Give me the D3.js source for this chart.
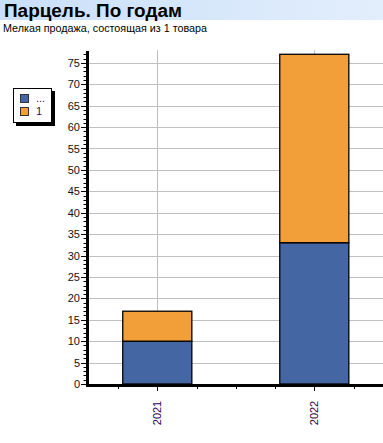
<!DOCTYPE html>
<html><head><meta charset="utf-8">
<script src="https://cdn.jsdelivr.net/npm/d3@7"></script>
<style>body{margin:0;background:#fff;} svg{display:block;font-family:"Liberation Sans",Arial,sans-serif;}</style>
</head><body><svg id="c" width="383" height="443"></svg>
<script>
const title = "Парцель. По годам";
const subtitle = "Мелкая продажа, состоящая из 1 товара";
const categories = ["2021", "2022"];
const seriesNames = ["...", "1"];
const seriesColors = ["#4467a3", "#f29f3a"];
const seriesDots = [10, 33];
const seriesOne = [7, 44];
const yTicks = [0,5,10,15,20,25,30,35,40,45,50,55,60,65,70,75];

const svg = d3.select("#c");
const defs = svg.append("defs");
const g1 = defs.append("linearGradient").attr("id","tg");
g1.append("stop").attr("offset","0%").attr("stop-color","#c9dff9");
g1.append("stop").attr("offset","100%").attr("stop-color","#e3eefc");
svg.append("rect").attr("x",0).attr("y",0).attr("width",383).attr("height",20).attr("fill","url(#tg)");
svg.append("text").attr("x",4).attr("y",16.5).attr("font-size",17.5).attr("font-weight","bold").attr("fill","#000")
  .attr("textLength",178).attr("lengthAdjust","spacingAndGlyphs").text(title);
svg.append("text").attr("x",3).attr("y",31.5).attr("font-size",10.8).attr("fill","#000")
  .attr("textLength",204).attr("lengthAdjust","spacingAndGlyphs").text(subtitle);

const y = d3.scaleLinear().domain([0,78]).range([384,50]);
const x = d3.scaleLinear().domain([0,2]).range([78.8,392.8]);
const left = 88, right = 383;

// grid
svg.append("g").selectAll("line").data(yTicks.filter(d=>d>0)).join("line")
  .attr("x1",left).attr("x2",right).attr("y1",d=>Math.round(y(d))+0.5).attr("y2",d=>Math.round(y(d))+0.5)
  .attr("stroke","#c0c0c0").attr("stroke-width",1);
svg.append("g").selectAll("line").data(categories).join("line")
  .attr("x1",(d,i)=>Math.round(x(i+0.5))+0.5).attr("x2",(d,i)=>Math.round(x(i+0.5))+0.5)
  .attr("y1",y(78)).attr("y2",384).attr("stroke","#c0c0c0");

// bars
const stack = categories.map((c,i)=>[[0,seriesDots[i]],[seriesDots[i],seriesDots[i]+seriesOne[i]]]);
const bw = 0.44;
categories.forEach((c,i)=>{
  stack[i].forEach((s,j)=>{
    svg.append("rect")
      .attr("x",x(i+0.5-bw/2)).attr("width",x(bw)-x(0))
      .attr("y",y(s[1])).attr("height",y(s[0])-y(s[1]))
      .attr("fill",seriesColors[j]).attr("stroke","#000").attr("stroke-width",1.3);
  });
});

// y axis
const yMinor = d3.range(0,78,1);
svg.append("g").selectAll("line").data(yMinor).join("line")
  .attr("x1",d=>d%5===0?81:83.5).attr("x2",87).attr("y1",d=>Math.round(y(d))+0.5).attr("y2",d=>Math.round(y(d))+0.5)
  .attr("stroke","#000").attr("stroke-width",1);
const ya = svg.append("g").attr("transform","translate(81,0)")
  .call(d3.axisLeft(y).tickValues(yTicks).tickSize(0).tickPadding(1));
ya.select(".domain").remove();
ya.selectAll("text").attr("font-size",11).attr("fill","#111").attr("font-family","Liberation Sans, Arial, sans-serif");
svg.append("line").attr("x1",87.5).attr("x2",87.5).attr("y1",51).attr("y2",386).attr("stroke","#000").attr("stroke-width",3);

// x axis
const xt = [0.25,0.5,0.75,1,1.25,1.5,1.75];
svg.append("g").selectAll("line").data(xt).join("line")
  .attr("x1",d=>Math.round(x(d))+0.5).attr("x2",d=>Math.round(x(d))+0.5)
  .attr("y1",385).attr("y2",d=>(d%1===0.5)?391:389).attr("stroke","#000");
svg.append("line").attr("x1",86).attr("x2",383).attr("y1",385.5).attr("y2",385.5).attr("stroke","#000").attr("stroke-width",3);
svg.append("g").selectAll("text").data(categories).join("text")
  .attr("transform",(d,i)=>`translate(${x(i+0.5)+4},${413}) rotate(-90)`)
  .attr("text-anchor","middle").attr("font-size",11).attr("fill","#2a0050").text(d=>d);

// legend
svg.append("rect").attr("x",16).attr("y",91).attr("width",39).attr("height",35).attr("fill","#000");
svg.append("rect").attr("x",13.5).attr("y",88.5).attr("width",38).attr("height",34).attr("fill","#fff").attr("stroke","#000");
seriesNames.forEach((n,i)=>{
  svg.append("rect").attr("x",20.5).attr("y",94.5+i*13).attr("width",8).attr("height",8)
    .attr("fill",seriesColors[i]).attr("stroke","#333");
  svg.append("text").attr("x",36).attr("y",102+i*13).attr("font-size",11).attr("fill","#4b0060").text(n);
});
</script></body></html>
